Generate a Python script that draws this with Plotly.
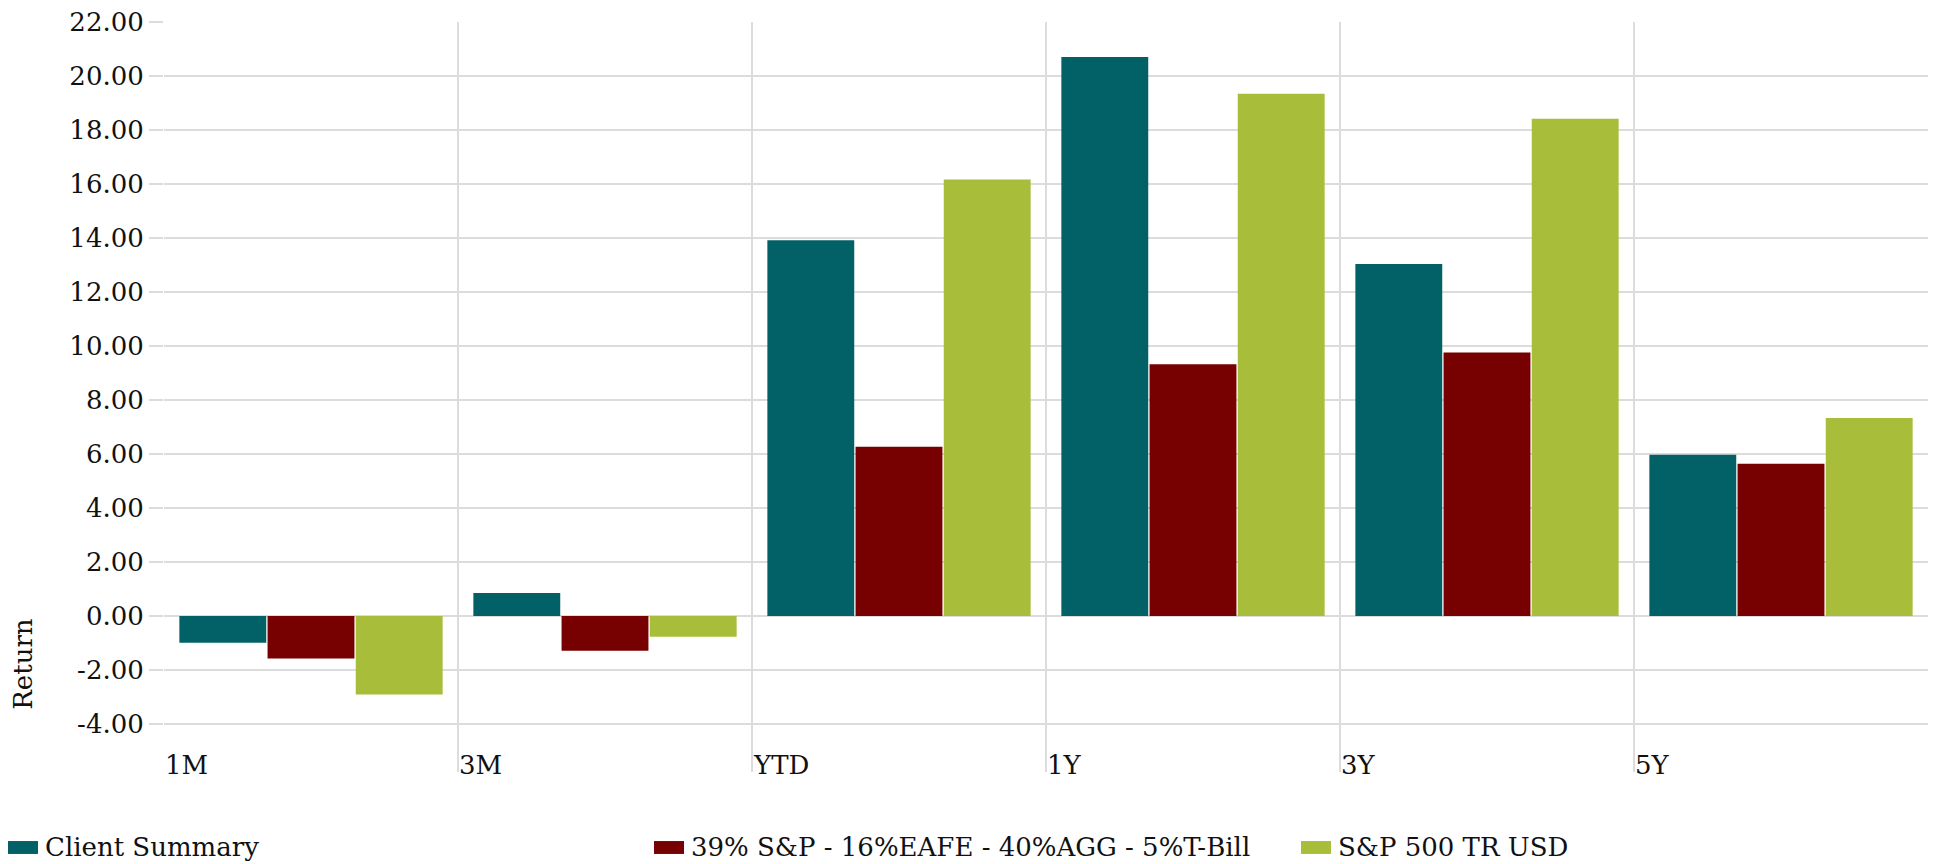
import plotly.graph_objects as go

# ---- data -------------------------------------------------------------
categories = ["1M", "3M", "YTD", "1Y", "3Y", "5Y"]
client_summary = [-0.99, 0.85, 13.92, 20.70, 13.04, 5.97]
blended_benchmark = [-1.58, -1.29, 6.27, 9.32, 9.76, 5.64]
sp500_tr = [-2.91, -0.77, 16.17, 19.34, 18.42, 7.33]

series_names = [
    "Client Summary",
    "39% S&P - 16%EAFE - 40%AGG - 5%T-Bill",
    "S&P 500 TR USD",
]
y_tick_values = [-4, -2, 0, 2, 4, 6, 8, 10, 12, 14, 16, 18, 20, 22]
y_title = "Return"

# ---- styling ----------------------------------------------------------
colors = ["#016166", "#770000", "#A8BD3A"]
grid_color = "#dcdcdc"
text_color = "#111111"
font_family = "DejaVu Serif"
font_size = 26

W, H = 1935, 864
ML, MR, MT, MB = 164, 7, 17, 92
PW, PH = W - ML - MR, H - MT - MB


def px_to_paper_x(px):
    return (px - ML) / PW


def px_to_paper_y(py):
    return (H - MB - py) / PH


# each period occupies one unit band; bars sit at the band centre
x_centres = [i + 0.5 for i in range(len(categories))]
band_edges = list(range(len(categories)))

fig = go.Figure()
for name, values, color in zip(series_names,
                               [client_summary, blended_benchmark, sp500_tr],
                               colors):
    fig.add_trace(go.Bar(
        x=x_centres,
        y=values,
        name=name,
        marker=dict(color=color, line=dict(width=0)),
        showlegend=False,
        hovertemplate="%{y:.2f}<extra>" + name + "</extra>",
    ))

fig.update_layout(
    width=W,
    height=H,
    margin=dict(l=ML, r=MR, t=MT, b=MB, pad=0),
    paper_bgcolor="white",
    plot_bgcolor="white",
    barmode="group",
    bargap=0.10,
    bargroupgap=0.015,
    font=dict(family=font_family, size=font_size, color=text_color),
)

fig.update_xaxes(
    range=[0, len(categories)],
    tickmode="array",
    tickvals=band_edges,
    showticklabels=False,
    showgrid=True,
    gridcolor=grid_color,
    gridwidth=2,
    zeroline=False,
    showline=False,
    ticks="",
)

fig.update_yaxes(
    range=[-5.78, 22],
    tickmode="array",
    tickvals=y_tick_values,
    ticktext=[f"{v:.2f}" for v in y_tick_values],
    showgrid=True,
    gridcolor=grid_color,
    gridwidth=2,
    zeroline=False,
    showline=False,
    ticks="outside",
    ticklen=14,
    tickwidth=2,
    tickcolor=grid_color,
    tickfont=dict(family=font_family, size=font_size, color=text_color),
)

# period labels, left-aligned at each band's boundary line near the bottom
for edge, label in zip(band_edges, categories):
    fig.add_annotation(
        text=label,
        xref="x", yref="paper",
        x=edge, y=px_to_paper_y(765),
        xanchor="left", yanchor="middle",
        xshift=-1,
        showarrow=False,
        font=dict(family=font_family, size=font_size, color=text_color),
    )

# rotated axis title placed low on the left side
fig.add_annotation(
    text=y_title,
    textangle=-90,
    xref="paper", yref="paper",
    x=px_to_paper_x(23), y=px_to_paper_y(663),
    xanchor="center", yanchor="middle",
    showarrow=False,
    font=dict(family=font_family, size=font_size, color=text_color),
)

# legend row along the bottom edge
legend_x_px = [8, 654, 1301]
legend_y_px = 848
for name, color, lx in zip(series_names, colors, legend_x_px):
    fig.add_shape(
        type="rect",
        xref="paper", yref="paper",
        x0=px_to_paper_x(lx), x1=px_to_paper_x(lx + 30),
        y0=px_to_paper_y(legend_y_px + 6.5), y1=px_to_paper_y(legend_y_px - 6.5),
        fillcolor=color,
        line=dict(width=0),
    )
    fig.add_annotation(
        text=name,
        xref="paper", yref="paper",
        x=px_to_paper_x(lx + 35), y=px_to_paper_y(legend_y_px),
        xanchor="left", yanchor="middle",
        showarrow=False,
        font=dict(family=font_family, size=font_size, color=text_color),
    )

fig.write_html("out.html")
